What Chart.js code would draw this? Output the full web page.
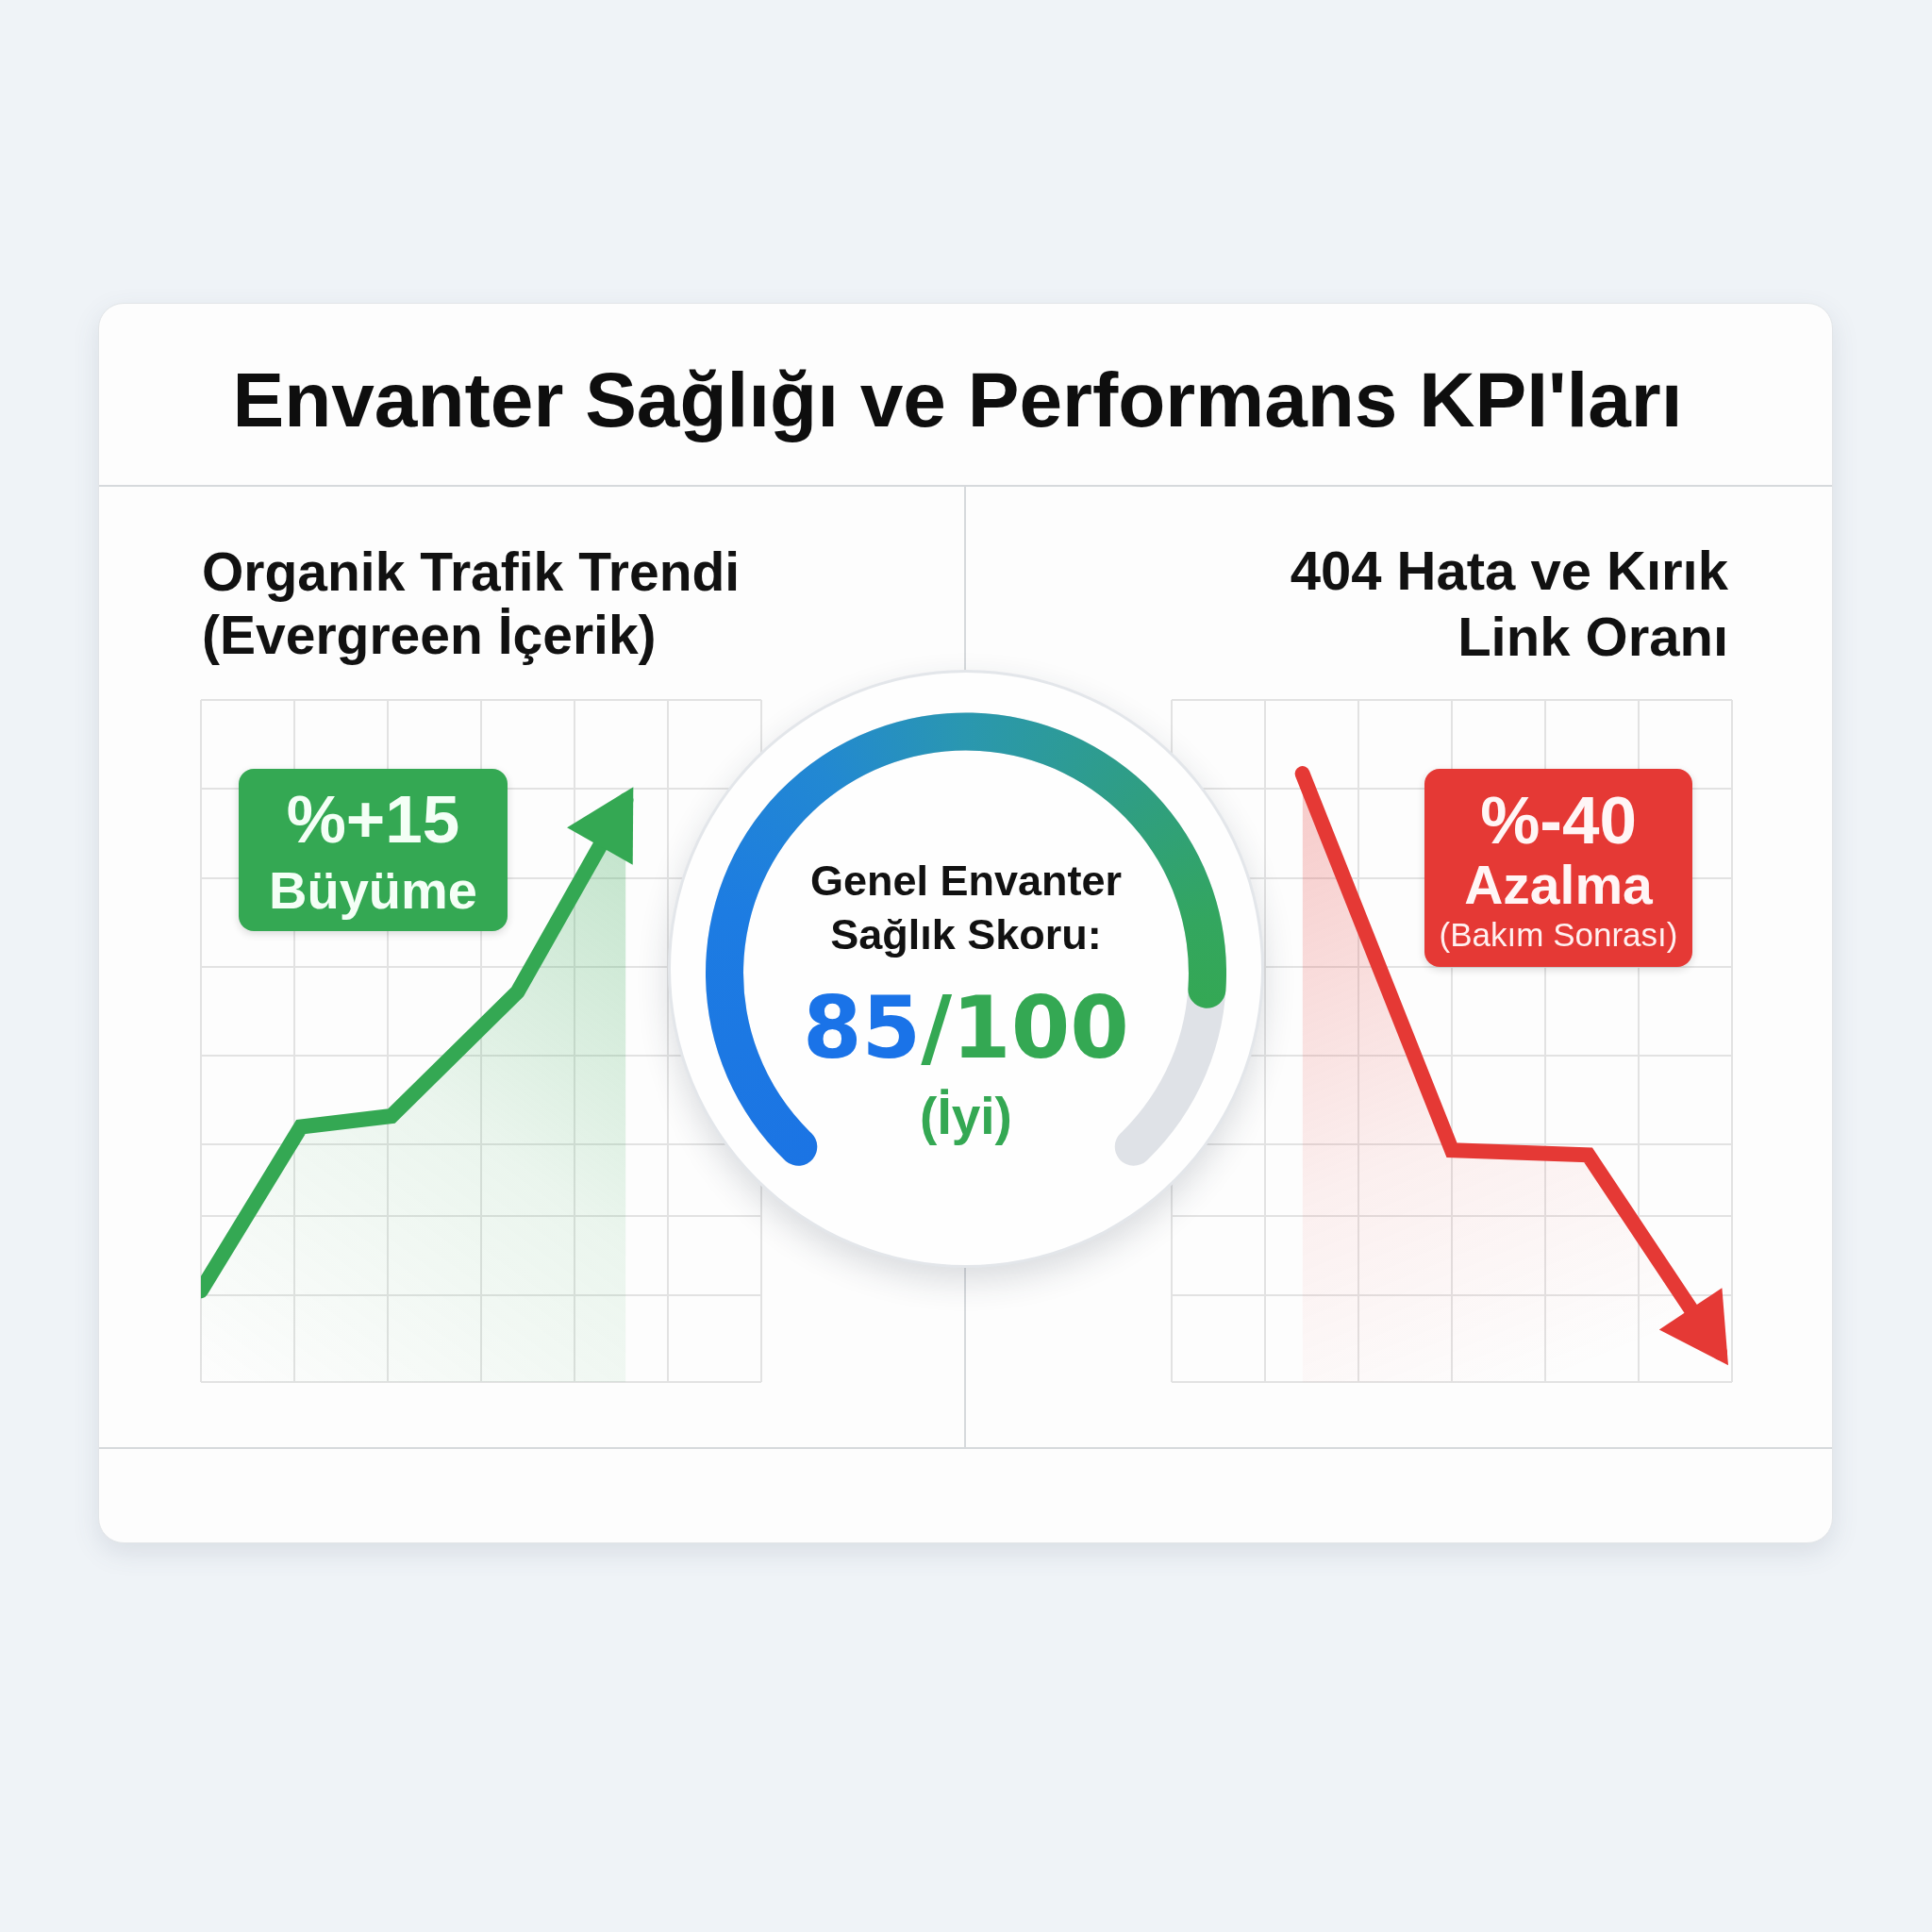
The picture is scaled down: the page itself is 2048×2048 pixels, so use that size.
<!DOCTYPE html>
<html lang="tr">
<head>
<meta charset="utf-8">
<title>Envanter Sağlığı ve Performans KPI'ları</title>
<script src="https://cdn.jsdelivr.net/npm/chart.js@4.4.1/dist/chart.umd.min.js"></script>
<style>
  html, body { margin: 0; padding: 0; }
  body { width: 2048px; height: 2048px; background: #eff3f7; position: relative; overflow: hidden;
         font-family: 'Liberation Sans', Arial, sans-serif; }
  .abs { position: absolute; }
  #card { left: 104px; top: 321px; width: 1837px; height: 1313px; background: #fdfdfd;
          border: 1px solid #e2e5e8; border-radius: 27px;
          box-shadow: 0 10px 28px rgba(70, 85, 105, 0.13); }
  .rule { background: #d6d9dc; }
  .txt { white-space: nowrap; line-height: 1; }
  .badge { border-radius: 16px; box-shadow: 0 3px 8px rgba(0, 0, 0, 0.14); }
  #dial { left: 708px; top: 710px; width: 632px; height: 634px; border-radius: 50%; background: #fefefe;
          border: 3px solid #e3e6ea; box-sizing: border-box;
          box-shadow: 0 14px 34px rgba(40, 50, 70, 0.16); }
  canvas { position: absolute; }
</style>
</head>
<body>
<div id="card" class="abs"></div>
<div class="abs rule" style="left:105px; top:514px; width:1837px; height:2px;"></div>
<div class="abs rule" style="left:105px; top:1534px; width:1837px; height:2px;"></div>
<div class="abs rule" style="left:1022px; top:516px; width:2px; height:1018px;"></div>

<canvas id="trafficChart" width="598" height="727" style="left:211px; top:740px; z-index:2;"></canvas>
<canvas id="errorChart" width="598" height="727" style="left:1240px; top:740px; z-index:2;"></canvas>

<div class="abs badge" style="left:253px; top:815px; width:285px; height:172px; background:#34a853; z-index:3;"></div>
<div class="abs badge" style="left:1510px; top:815px; width:284px; height:210px; background:#e53935; z-index:3;"></div>

<div id="dial" class="abs" style="z-index:4;"></div>
<canvas id="gaugeTrack" width="552" height="552" style="left:748px; top:724px; z-index:5;"></canvas>
<canvas id="gaugeValue" width="552" height="552" style="left:748px; top:724px; z-index:6;"></canvas>

<script>
// chart values
const gridCols = [0, 1, 2, 3, 4, 5, 6];
const gridRows = [0, 12.7, 24.4, 34.9, 47.9, 60.9, 73.8, 87, 100];
const trafficX = [0, 1.07, 2.04, 3.39, 4.55];
const trafficY = [13.4, 37.4, 39, 57.2, 85.3];
const errorX = [1.4, 3.0, 4.46, 5.87];
const errorY = [89.2, 34, 33.3, 4.3];
const healthScore = 85;
const healthMax = 100;
const gaugeRotation = -140.5;
const gaugeSweep = 281;

const GREEN = '#34a853';
const RED = '#e53935';
const BLUE = '#1a73e8';
const GRID = '#e2e2e2';

// text: [content, x, baseline, size, align, color, weight, family, layer]
const SANS = "'Liberation Sans', Arial, sans-serif";
const WIDE = "'DejaVu Sans', sans-serif";
const texts = [
  ["Envanter Sağlığı ve Performans KPI'ları", 1015, 452, 82, 'center', '#0e0e0e', 700, SANS, 1],
  ['Organik Trafik Trendi', 214, 626, 57, 'left', '#111', 700, SANS, 1],
  ['(Evergreen İçerik)', 214, 693, 57, 'left', '#111', 700, SANS, 1],
  ['404 Hata ve Kırık', 1832, 625, 58, 'right', '#111', 700, SANS, 1],
  ['Link Oranı', 1832, 695, 58, 'right', '#111', 700, SANS, 1],
  ['%+15', 395.5, 893, 71, 'center', '#f4fff6', 700, SANS, 7],
  ['Büyüme', 395.5, 963, 56, 'center', '#f4fff6', 700, SANS, 7],
  ['%-40', 1652, 894, 71, 'center', '#fff6f6', 700, SANS, 7],
  ['Azalma', 1652, 958, 57, 'center', '#fff6f6', 700, SANS, 7],
  ['(Bakım Sonrası)', 1652, 1003, 35, 'center', '#fff0f0', 400, SANS, 7],
  ['Genel Envanter', 1024, 949, 45, 'center', '#111', 700, SANS, 8],
  ['Sağlık Skoru:', 1024, 1006, 45, 'center', '#111', 700, SANS, 8],
  ['<span style="color:' + BLUE + '">' + healthScore + '</span><span style="color:' + GREEN + '">/' + healthMax + '</span>', 1024, 1121, 90, 'center', GREEN, 700, WIDE, 8],
  ['(İyi)', 1024, 1203, 55, 'center', GREEN, 700, SANS, 8]
];

texts.forEach(([content, x, base, size, align, color, weight, family, z]) => {
  const d = document.createElement('div');
  d.className = 'abs txt';
  d.innerHTML = content;
  d.style.fontFamily = family;
  d.style.fontSize = size + 'px';
  d.style.fontWeight = weight;
  d.style.color = color;
  d.style.zIndex = z;
  d.style.top = (base - 0.846 * size) + 'px';
  if (align === 'left') d.style.left = x + 'px';
  else if (align === 'right') d.style.right = (2048 - x) + 'px';
  else { d.style.left = x + 'px'; d.style.transform = 'translateX(-50%)'; }
  document.body.appendChild(d);
});

// arrow head at the end of the line, pointing along the last segment
const arrowPlugin = {
  id: 'arrowHead',
  afterDatasetsDraw(chart, args, opts) {
    const pts = chart.getDatasetMeta(0).data;
    const a = pts[pts.length - 2], b = pts[pts.length - 1];
    const len = Math.hypot(b.x - a.x, b.y - a.y);
    const ux = (b.x - a.x) / len, uy = (b.y - a.y) / len;
    const tipX = b.x + ux * 16, tipY = b.y + uy * 16;
    const backX = tipX - ux * 72, backY = tipY - uy * 72;
    const ctx = chart.ctx;
    ctx.save();
    ctx.fillStyle = opts.color;
    ctx.beginPath();
    ctx.moveTo(tipX, tipY);
    ctx.lineTo(backX - uy * 40, backY + ux * 40);
    ctx.lineTo(backX + uy * 40, backY - ux * 40);
    ctx.closePath();
    ctx.fill();
    ctx.restore();
  }
};

function trafficFill(c) {
  const chart = c.chart;
  if (!chart.chartArea) return 'rgba(52,168,83,0.2)';
  const xs = chart.scales.x, ys = chart.scales.y;
  const n = trafficX.length - 1;
  const x0 = xs.getPixelForValue(trafficX[n]), y0 = ys.getPixelForValue(trafficY[n]);
  const x1 = xs.getPixelForValue(trafficX[0]);
  const g = chart.ctx.createLinearGradient(x0, y0, x1, chart.chartArea.bottom);
  g.addColorStop(0, 'rgba(52,168,83,0.30)');
  g.addColorStop(0.5, 'rgba(52,168,83,0.09)');
  g.addColorStop(1, 'rgba(52,168,83,0)');
  return g;
}

function errorFill(c) {
  const chart = c.chart;
  if (!chart.chartArea) return 'rgba(229,57,53,0.2)';
  const xs = chart.scales.x, ys = chart.scales.y;
  const n = errorX.length - 1;
  const x0 = xs.getPixelForValue(errorX[0]), y0 = ys.getPixelForValue(errorY[0]);
  const x1 = x0 + 0.6 * (xs.getPixelForValue(errorX[n]) - x0);
  const g = chart.ctx.createLinearGradient(x0, y0, x1, chart.chartArea.bottom);
  g.addColorStop(0, 'rgba(229,57,53,0.26)');
  g.addColorStop(0.6, 'rgba(229,57,53,0.07)');
  g.addColorStop(1, 'rgba(229,57,53,0)');
  return g;
}

function lineChart(id, xs, ys, color, fill) {
  const axis = (min, max, ticks) => ({
    type: 'linear', min: min, max: max,
    afterBuildTicks: s => { s.ticks = ticks.map(v => ({ value: v })); },
    ticks: { display: false },
    grid: { color: GRID, lineWidth: 2, drawTicks: false },
    border: { display: false }
  });
  return new Chart(document.getElementById(id), {
    type: 'line',
    data: {
      datasets: [{
        data: xs.map((x, i) => ({ x: x, y: ys[i] })),
        borderColor: color,
        borderWidth: 16,
        borderJoinStyle: 'miter',
        borderCapStyle: 'round',
        pointRadius: 0,
        tension: 0,
        fill: 'start',
        backgroundColor: fill
      }]
    },
    options: {
      responsive: false,
      animation: false,
      events: [],
      layout: { padding: 2 },
      plugins: { legend: { display: false }, tooltip: { enabled: false }, arrowHead: { color: color } },
      scales: { x: axis(0, 6, gridCols), y: axis(0, 100, gridRows) }
    },
    plugins: [arrowPlugin]
  });
}

lineChart('trafficChart', trafficX, trafficY, GREEN, trafficFill);
lineChart('errorChart', errorX, errorY, RED, errorFill);

// gauge: blue -> teal -> green along the arc (degrees from the arc start)
const arcStops = [[0, '#1b74e4'], [65, '#1d7ce2'], [105, '#2288d2'], [140, '#2a97b0'], [185, '#2f9e82'], [218, '#33a65f'], [240, '#34a853']];
function scoreColor(c) {
  if (c.dataIndex !== 0) return 'rgba(0,0,0,0)';
  const chart = c.chart, a = chart.chartArea;
  if (!a) return BLUE;
  const ctrl = chart.getDatasetMeta(0).controller;
  const cx = (a.left + a.right) / 2 + (ctrl.offsetX || 0);
  const cy = (a.top + a.bottom) / 2 + (ctrl.offsetY || 0);
  const lead = 12;
  const start = gaugeRotation - 90 - lead;
  const g = chart.ctx.createConicGradient(start * Math.PI / 180, cx, cy);
  g.addColorStop(0, arcStops[0][1]);
  arcStops.forEach(([deg, col]) => g.addColorStop((deg + lead) / 360, col));
  g.addColorStop(1, arcStops[arcStops.length - 1][1]);
  return g;
}

function gauge(id, values, color) {
  return new Chart(document.getElementById(id), {
    type: 'doughnut',
    data: { datasets: [{ data: values, backgroundColor: color, borderWidth: 0, borderRadius: 20, hoverOffset: 0 }] },
    options: {
      responsive: false,
      animation: false,
      events: [],
      rotation: gaugeRotation,
      circumference: gaugeSweep,
      cutout: '85.5%',
      plugins: { legend: { display: false }, tooltip: { enabled: false } }
    }
  });
}

gauge('gaugeTrack', [healthMax], '#dfe2e7');
gauge('gaugeValue', [healthScore, healthMax - healthScore], scoreColor);
</script>
</body>
</html>
